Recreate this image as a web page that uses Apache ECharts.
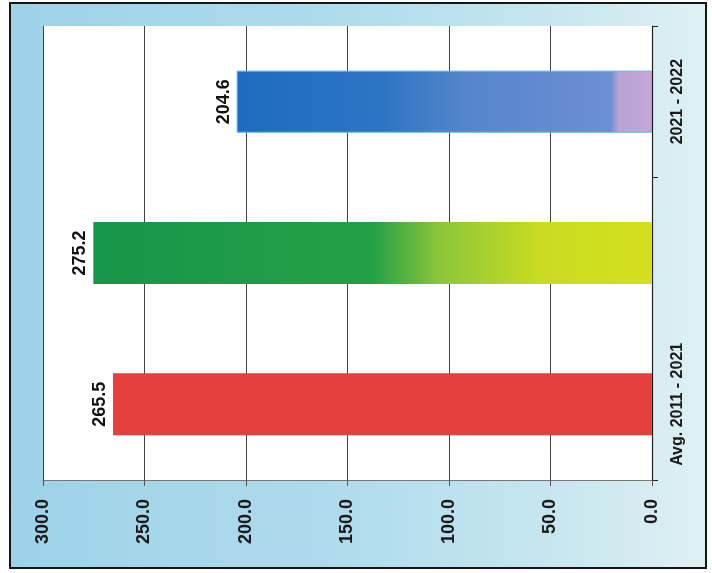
<!DOCTYPE html>
<html>
<head>
<meta charset="utf-8">
<script src="https://cdn.jsdelivr.net/npm/echarts@6/dist/echarts.min.js"></script>
<style>
    html, body { margin: 0; padding: 0; background: #fff; }
    #wrap { position: relative; width: 712px; height: 573px; }
    #frame {
        position: absolute; left: 9px; top: 2px; width: 694px; height: 563px;
        border: 2px solid #151515;
        background: linear-gradient(90deg, #9ed2e8 0%, #aedbec 45%, #c4e5ef 75%, #dff0f2 100%);
    }
    #chart { position: absolute; left: 0; top: 0; width: 712px; height: 573px; }
</style>
</head>
<body>
<div id="wrap">
    <div id="frame"></div>
    <div id="chart"></div>
</div>
<script>
// categories from bottom to top (original x axis, chart is turned on its side)
const categories = ["Avg. 2011 - 2021", "2020 - 2021", "2021 - 2022"];
const values = [265.5, 275.2, 204.6];
const valueTicks = { min: 0, max: 300, interval: 50 };

const labelFont = "'Liberation Sans', Arial, sans-serif";

// bar fills, gradient goes along the bar (left end = top of bar)
const barFills = [
    "#e5403c",
    new echarts.graphic.LinearGradient(0, 0, 1, 0, [
        { offset: 0, color: "#17964a" },
        { offset: 0.5, color: "#23a046" },
        { offset: 0.62, color: "#8cc63a" },
        { offset: 0.8, color: "#c9dc22" },
        { offset: 1, color: "#d4e01e" },
    ]),
    new echarts.graphic.LinearGradient(0, 0, 1, 0, [
        { offset: 0, color: "#1d6bbf" },
        { offset: 0.35, color: "#2e74c4" },
        { offset: 0.55, color: "#5585cc" },
        { offset: 0.9, color: "#6c8fd2" },
        { offset: 0.92, color: "#b8a2d6" },
        { offset: 1, color: "#c4a8d8" },
    ]),
];

let chart = echarts.init(document.getElementById("chart"));

let option = {
    backgroundColor: "transparent",
    animation: false,
    grid: {
        left: 43,
        right: 60,
        top: 26,
        bottom: 93,
        show: true,
        backgroundColor: "#fff",
        borderWidth: 0,
    },
    xAxis: {
        type: "value",
        inverse: true,
        min: valueTicks.min,
        max: valueTicks.max,
        interval: valueTicks.interval,
        position: "bottom",
        axisLine: { show: true, lineStyle: { color: "#777", width: 1 } },
        axisTick: { show: true, length: 6, lineStyle: { color: "#555" } },
        splitLine: { show: true, lineStyle: { color: "#444", width: 1 } },
        axisLabel: {
            rotate: 90,
            margin: 19,
            color: "#1a1a1a",
            fontSize: 18,
            fontWeight: "bold",
            fontFamily: labelFont,
            formatter: (v) => v.toFixed(1),
        },
    },
    yAxis: {
        type: "category",
        position: "right",
        data: categories,
        axisLine: { show: true, lineStyle: { color: "#222", width: 1.2 } },
        axisTick: { show: true, length: 6, lineStyle: { color: "#222" } },
        axisLabel: {
            rotate: 90,
            margin: 18,
            color: "#1a1a1a",
            fontSize: 16,
            fontWeight: "bold",
            fontFamily: labelFont,
        },
    },
    series: [
        {
            type: "bar",
            barWidth: "41%",
            data: values.map((v, i) => ({
                value: v,
                itemStyle: {
                    color: barFills[i],
                    borderColor: i == 2 ? "#58b4ea" : "transparent",
                    borderWidth: i == 2 ? 1 : 0,
                },
            })),
            label: {
                show: true,
                position: "left",
                distance: 4,
                rotate: 90,
                align: "center",
                verticalAlign: "bottom",
                color: "#111",
                fontSize: 18,
                fontWeight: "bold",
                fontFamily: labelFont,
                formatter: (p) => p.value.toFixed(1),
            },
        },
    ],
};

chart.setOption(option);
</script>
</body>
</html>
